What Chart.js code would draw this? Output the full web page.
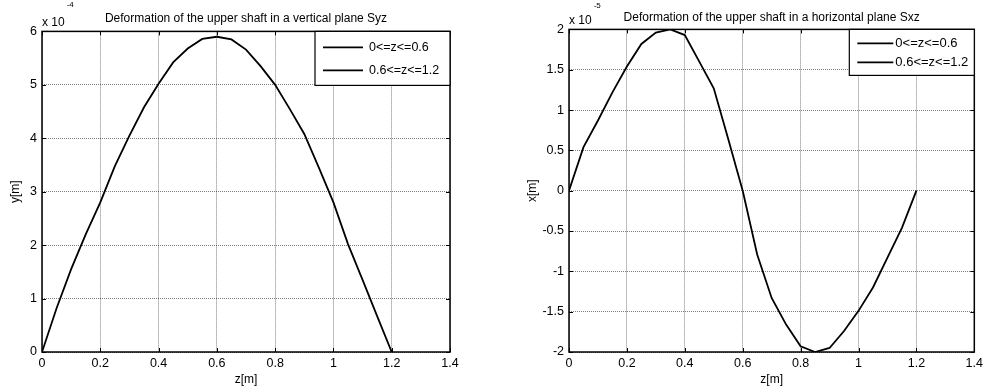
<!DOCTYPE html>
<html>
<head>
<meta charset="utf-8">
<title>Deformation of the upper shaft</title>
<script src="https://cdn.jsdelivr.net/npm/chart.js@4.4.1/dist/chart.umd.min.js"></script>
<style>
    html, body { margin: 0; padding: 0; background: #fff; }
    #wrap { position: relative; width: 987px; height: 387px; overflow: hidden; }
    canvas { position: absolute; top: 0; }
    #syzChart { left: 0; }
    #sxzChart { left: 490px; }
</style>
</head>
<body>
<div id="wrap">
    <canvas id="syzChart" width="490" height="387"></canvas>
    <canvas id="sxzChart" width="497" height="387"></canvas>
</div>
<script>
// z positions along the shaft [m], one array per segment
var zFirst  = [0, 0.05, 0.1, 0.15, 0.2, 0.25, 0.3, 0.35, 0.4, 0.45, 0.5, 0.55, 0.6];
var zSecond = [0.6, 0.65, 0.7, 0.75, 0.8, 0.85, 0.9, 0.95, 1.0, 1.05, 1.1, 1.15, 1.2];

// vertical plane Syz, y in units of 1e-4 m
var syzFirst  = [0, 0.82, 1.55, 2.2, 2.8, 3.48, 4.05, 4.58, 5.02, 5.42, 5.68, 5.86, 5.9];
var syzSecond = [5.9, 5.85, 5.66, 5.35, 5.0, 4.55, 4.08, 3.45, 2.8, 2.02, 1.35, 0.67, 0];

// horizontal plane Sxz, x in units of 1e-5 m
var sxzFirst  = [0, 0.54, 0.87, 1.22, 1.54, 1.82, 1.96, 2.0, 1.93, 1.6, 1.27, 0.64, 0];
var sxzSecond = [0, -0.79, -1.33, -1.66, -1.93, -2.0, -1.95, -1.74, -1.49, -1.2, -0.83, -0.46, 0];

var segmentLabels = ['0<=z<=0.6', '0.6<=z<=1.2'];

// tick labels
var zTicks   = [0, 0.2, 0.4, 0.6, 0.8, 1, 1.2, 1.4];
var syzTicks = [0, 1, 2, 3, 4, 5, 6];
var sxzTicks = [-2, -1.5, -1, -0.5, 0, 0.5, 1, 1.5, 2];

var FONT = '"Liberation Sans", Arial, Helvetica, sans-serif';

function points(zs, vals) {
    return zs.map(function (z, i) { return {x: z, y: vals[i]}; });
}

function useTicks(list) {
    return function (scale) {
        scale.ticks = list.map(function (v) { return {value: v}; });
    };
}

// MATLAB style box: inward ticks, exponent label and legend inside the axes
var matlabFrame = {
    id: 'matlabFrame',
    afterLayout: function (chart) {
        // centre the title over the plot box, not the whole canvas
        var tb = chart.titleBlock, a = chart.chartArea;
        if (tb) {
            tb.left = a.left;
            tb.right = a.right;
            tb.width = a.right - a.left;
        }
    },
    afterDraw: function (chart, args, opts) {
        var ctx = chart.ctx;
        var a = chart.chartArea;
        var sx = chart.scales.x, sy = chart.scales.y;
        var tl = 4;
        ctx.save();
        ctx.strokeStyle = '#000';
        ctx.lineWidth = 1;
        ctx.beginPath();
        sx.ticks.forEach(function (t) {
            var px = Math.round(sx.getPixelForValue(t.value)) + 0.5;
            ctx.moveTo(px, a.bottom); ctx.lineTo(px, a.bottom - tl);
            ctx.moveTo(px, a.top); ctx.lineTo(px, a.top + tl);
        });
        sy.ticks.forEach(function (t) {
            var py = Math.round(sy.getPixelForValue(t.value)) + 0.5;
            ctx.moveTo(a.left, py); ctx.lineTo(a.left + tl, py);
            ctx.moveTo(a.right, py); ctx.lineTo(a.right - tl, py);
        });
        ctx.stroke();

        ctx.lineWidth = 1.5;
        ctx.strokeRect(a.left, a.top, a.right - a.left, a.bottom - a.top);

        // exponent
        ctx.fillStyle = '#000';
        ctx.textBaseline = 'middle';
        ctx.textAlign = 'left';
        ctx.font = '12px ' + FONT;
        ctx.fillText('x 10', a.left, a.top - 8.5);
        var w = ctx.measureText('x 10').width;
        ctx.font = '8px ' + FONT;
        ctx.fillText(opts.exponent, a.left + w + 2, a.top - opts.expRise);

        // legend
        var lg = opts.legend;
        var bx = a.right - lg.width, by = a.top;
        ctx.fillStyle = '#fff';
        ctx.fillRect(bx, by, lg.width, lg.height);
        ctx.strokeStyle = '#000';
        ctx.lineWidth = 1.2;
        ctx.strokeRect(bx, by, lg.width, lg.height);
        ctx.font = lg.fontSize + 'px ' + FONT;
        chart.data.datasets.forEach(function (ds, i) {
            var ry = by + lg.rows[i];
            ctx.strokeStyle = ds.borderColor;
            ctx.lineWidth = ds.borderWidth;
            ctx.beginPath();
            ctx.moveTo(bx + lg.lineFrom, ry);
            ctx.lineTo(bx + lg.lineTo, ry);
            ctx.stroke();
            ctx.fillStyle = '#000';
            ctx.fillText(ds.label, bx + lg.textAt, ry);
        });
        ctx.restore();
    }
};

function makeChart(id, cfg) {
    return new Chart(document.getElementById(id), {
        type: 'line',
        data: {
            datasets: [{
                label: segmentLabels[0],
                data: points(zFirst, cfg.first),
                borderColor: '#000',
                borderWidth: 1.8
            }, {
                label: segmentLabels[1],
                data: points(zSecond, cfg.second),
                borderColor: '#000',
                borderWidth: 1.8
            }]
        },
        options: {
            responsive: false,
            animation: false,
            devicePixelRatio: 1,
            layout: {padding: {left: 0, right: cfg.padRight, top: 0, bottom: 0}},
            elements: {
                point: {radius: 0},
                line: {tension: 0, fill: false}
            },
            plugins: {
                legend: {display: false},
                tooltip: {enabled: false},
                title: {
                    display: true,
                    text: cfg.title,
                    color: '#000',
                    font: {family: FONT, size: 12, weight: 'normal'},
                    padding: cfg.titlePad
                },
                matlabFrame: {
                    exponent: cfg.exponent,
                    expRise: cfg.expRise,
                    legend: cfg.legend
                }
            },
            scales: {
                x: {
                    type: 'linear',
                    min: 0,
                    max: 1.4,
                    afterBuildTicks: useTicks(zTicks),
                    afterFit: function (s) { s.height = 35; },
                    grid: {color: 'rgba(0,0,0,0.5)', lineWidth: 1, drawTicks: false},
                    border: {display: false, dash: [1, 1]},
                    ticks: {
                        color: '#000',
                        padding: 4,
                        maxRotation: 0,
                        font: {family: FONT, size: 12.5},
                        callback: function (v) { return String(v); }
                    },
                    title: {
                        display: true,
                        text: 'z[m]',
                        color: '#000',
                        font: {family: FONT, size: 12},
                        padding: {top: 0, bottom: 0}
                    }
                },
                y: {
                    type: 'linear',
                    min: cfg.yTicks[0],
                    max: cfg.yTicks[cfg.yTicks.length - 1],
                    afterBuildTicks: useTicks(cfg.yTicks),
                    afterFit: function (s) { s.width = cfg.yWidth; },
                    grid: {color: 'rgba(0,0,0,0.5)', lineWidth: 1, drawTicks: false},
                    border: {display: false, dash: [1, 1]},
                    ticks: {
                        color: '#000',
                        padding: 5,
                        font: {family: FONT, size: 12.5},
                        callback: function (v) { return String(v); }
                    },
                    title: {
                        display: true,
                        text: cfg.yTitle,
                        color: '#000',
                        font: {family: FONT, size: 12},
                        padding: {top: cfg.yTitlePad, bottom: 0}
                    }
                }
            }
        },
        plugins: [matlabFrame]
    });
}

makeChart('syzChart', {
    title: 'Deformation of the upper shaft in a vertical plane Syz',
    first: syzFirst,
    second: syzSecond,
    yTicks: syzTicks,
    yTitle: 'y[m]',
    yWidth: 42,
    yTitlePad: 8,
    padRight: 40,
    titlePad: {top: 11, bottom: 6},
    exponent: '-4',
    expRise: 26.5,
    legend: {width: 135, height: 54, rows: [16, 39], lineFrom: 8, lineTo: 48, textAt: 54, fontSize: 12.5}
});

makeChart('sxzChart', {
    title: 'Deformation of the upper shaft in a horizontal plane Sxz',
    first: sxzFirst,
    second: sxzSecond,
    yTicks: sxzTicks,
    yTitle: 'x[m]',
    yWidth: 79,
    yTitlePad: 35,
    padRight: 8,
    titlePad: {top: 10, bottom: 5},
    exponent: '-5',
    expRise: 24,
    legend: {width: 125, height: 46, rows: [14, 33], lineFrom: 8, lineTo: 44, textAt: 46, fontSize: 13}
});
</script>
</body>
</html>
